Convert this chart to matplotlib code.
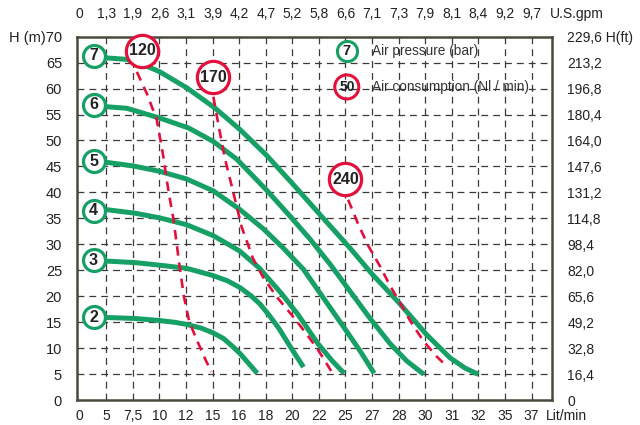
import matplotlib
matplotlib.use('Agg')
import matplotlib.pyplot as plt

plt.rcParams['font.family'] = ['Liberation Sans', 'DejaVu Sans']

# ---------------- data ----------------
x_positions = list(range(18))
lpm_labels = ['0', '5', '7,5', '10', '12', '15', '16', '18', '20', '22', '25',
              '27', '28', '30', '31', '32', '35', '37']
gpm_labels = ['0', '1,3', '1,9', '2,6', '3,1', '3,9', '4,2', '4,7', '5,2', '5,8',
              '6,6', '7,1', '7,3', '7,9', '8,1', '8,4', '9,2', '9,7']
head_m = [0, 5, 10, 15, 20, 25, 30, 35, 40, 45, 50, 55, 60, 65, 70]
head_m_labels = ['0', '5', '10', '15', '20', '25', '30', '35', '40', '45', '50',
                 '55', '60', '65', 'H (m)70']
head_ft_labels = ['0', '16,4', '32,8', '49,2', '65,6', '82,0', '98,4', '114,8',
                  '131,2', '147,6', '164,0', '180,4', '196,8', '213,2', '229,6 H(ft)']

# performance curves (x in flow-grid units, head in m), per air pressure (bar)
pressures = ['2', '3', '4', '5', '6', '7']
curve2_x = [0.97, 2.09, 3.02, 3.6, 4.03, 4.57, 5.01, 5.41, 5.77, 6.05, 6.29, 6.68]
curve2_h = [15.95, 15.75, 15.35, 15.0, 14.6, 13.9, 13.0, 11.9, 10.3, 8.9, 7.5, 5.2]
curve3_x = [1.0, 2.09, 3.02, 4.03, 5.02, 5.56, 6.03, 6.45, 6.79, 7.14, 7.5, 7.95, 8.42]
curve3_h = [26.8, 26.5, 26.0, 25.4, 24.0, 23.0, 21.7, 20.1, 18.5, 16.3, 13.8, 10.1, 6.4]
curve4_x = [1.0, 2.09, 3.02, 4.02, 5.02, 6.0, 6.75, 7.6, 8.2, 8.95, 9.5, 9.95]
curve4_h = [36.7, 36.0, 35.1, 33.8, 31.7, 28.8, 25.5, 20.5, 16.6, 11.0, 7.6, 5.2]
curve5_x = [1.0, 2.02, 3.02, 4.02, 5.03, 6.03, 6.91, 7.66, 8.42, 9.17, 9.92, 10.55, 11.08]
curve5_h = [45.8, 45.1, 44.05, 42.6, 40.3, 36.7, 33.0, 29.3, 25.2, 19.7, 14.2, 9.5, 5.2]
curve6_x = [1.0, 1.77, 3.02, 4.1, 5.03, 5.91, 7.04, 7.92, 8.67, 9.42, 10.17, 10.92,
            11.68, 12.3, 12.95]
curve6_h = [56.5, 56.2, 54.3, 52.4, 49.8, 46.4, 40.4, 35.4, 31.0, 26.2, 21.0, 15.8,
            10.9, 7.6, 5.0]
curve7_x = [1.0, 1.78, 2.39, 3.02, 4.04, 5.1, 6.03, 7.04, 8.04, 9.17, 10.17, 11.0,
            11.99, 13.06, 13.93, 14.5, 15.0]
curve7_h = [65.9, 65.6, 64.6, 63.2, 60.1, 56.2, 52.1, 47.1, 41.5, 35.0, 29.3, 24.3,
            18.9, 12.6, 8.2, 6.2, 5.0]
pressure_label_x = [0.52, 0.52, 0.52, 0.52, 0.52, 0.52]
pressure_label_h = [16.0, 27.0, 36.5, 46.0, 56.85, 66.3]

# air consumption lines (Nl/min)
consumptions = ['120', '170', '240']
air120_x = [2.15, 2.52, 2.9, 3.15, 3.28, 3.40, 3.53, 3.74, 3.92, 4.12, 4.39, 4.77, 4.96]
air120_h = [63.2, 59.1, 54.0, 46.8, 42.2, 38.5, 34.8, 26.5, 20.0, 15.2, 11.8, 7.4, 5.5]
air170_x = [5.03, 5.22, 5.46, 5.77, 6.09, 6.52, 6.9, 7.4, 8.03, 8.53, 8.97, 9.48]
air170_h = [58.4, 53.0, 46.6, 40.2, 33.4, 27.3, 23.7, 20.0, 16.1, 12.8, 9.7, 5.5]
air240_x = [10.10, 10.47, 10.85, 11.30, 11.67, 12.04, 12.41, 12.92, 13.42, 13.66]
air240_h = [38.6, 34.0, 29.8, 25.8, 22.1, 18.9, 15.5, 11.5, 8.5, 7.3]
consumption_label_x = [2.34, 5.03, 10.0]
consumption_label_h = [67.3, 62.2, 42.5]

# legend
legend_x = 10.05
legend_pressure_h = 67.3
legend_consumption_h = 60.3
legend_texts = ['Air pressure (bar)', 'Air consumption (Nl / min)']

GREEN = '#17a066'
RED = '#e2103b'
FRAME = '#4a4a3c'
TXT = '#222222'

# ---------------- figure ----------------
fig = plt.figure(figsize=(6.4, 4.25), dpi=100)
ax = fig.add_axes([0.1208, 0.058, 0.7417, 0.856])
XL = (-0.09, 17.77)
ax.set_xlim(*XL)
ax.set_ylim(0, 70)

for s in ax.spines.values():
    s.set_color(FRAME)
    s.set_linewidth(1.8)
    s.set_zorder(6)

ax.set_xticks(x_positions)
ax.set_xticklabels(lpm_labels)
ax.set_yticks(head_m)
ax.set_yticklabels(head_m_labels)
ax.tick_params(axis='x', length=0, pad=6, labelsize=10, labelcolor=TXT)
ax.tick_params(axis='y', length=0, pad=11, labelsize=10.5, labelcolor=TXT)

# grid
grid_style = dict(color='#3a3a3a', linewidth=0.9, linestyle=(0, (5.5, 4.0)), zorder=1)
ax.vlines(x_positions[1:], 0, 70, **grid_style)
ax.hlines(head_m[1:-1], XL[0], XL[1], **grid_style)

# twin axes for top / right labels
axt = ax.twiny()
axt.set_xlim(*XL)
axt.set_xticks(x_positions)
axt.set_xticklabels(gpm_labels)
axt.tick_params(axis='x', length=0, pad=11, labelsize=10, labelcolor=TXT)
axr = ax.twinx()
axr.set_ylim(0, 70)
axr.set_yticks(head_m)
axr.set_yticklabels(head_ft_labels)
axr.tick_params(axis='y', length=0, pad=11, labelsize=10, labelcolor=TXT)
for a in (axt, axr):
    for s in a.spines.values():
        s.set_visible(False)

ax.annotate('U.S.gpm', xy=(17.68, 1.0), xycoords=('data', 'axes fraction'),
            xytext=(0, 11), textcoords='offset points', ha='left', va='bottom',
            fontsize=10, color=TXT, annotation_clip=False)
ax.annotate('Lit/min', xy=(17.55, 0.0), xycoords=('data', 'axes fraction'),
            xytext=(0, -6), textcoords='offset points', ha='left', va='top',
            fontsize=10, color=TXT, annotation_clip=False)

# green curves
curves_x = [curve2_x, curve3_x, curve4_x, curve5_x, curve6_x, curve7_x]
curves_h = [curve2_h, curve3_h, curve4_h, curve5_h, curve6_h, curve7_h]
for cx, ch in zip(curves_x, curves_h):
    ax.plot(cx, ch, color=GREEN, lw=3.6, solid_capstyle='butt',
            solid_joinstyle='round', zorder=3)

# red dashed lines
airs_x = [air120_x, air170_x, air240_x]
airs_h = [air120_h, air170_h, air240_h]
for axx, ahh in zip(airs_x, airs_h):
    ln, = ax.plot(axx, ahh, color=RED, lw=1.9, zorder=4)
    ln.set_dashes((3.6, 2.6))

# pressure labels
ax.scatter(pressure_label_x, pressure_label_h, s=250, facecolor='white',
           edgecolor=GREEN, linewidth=2.3, zorder=7, clip_on=False)
for px, ph, t in zip(pressure_label_x, pressure_label_h, pressures):
    ax.text(px, ph, t, ha='center', va='center', fontsize=11.5,
            fontweight='bold', color=TXT, zorder=8)

# consumption labels
ax.scatter(consumption_label_x, consumption_label_h, s=540, facecolor='white',
           edgecolor=RED, linewidth=2.3, zorder=7, clip_on=False)
for px, ph, t in zip(consumption_label_x, consumption_label_h, consumptions):
    ax.text(px, ph, t, ha='center', va='center', fontsize=11.5,
            fontweight='bold', color=TXT, zorder=8)

# legend
ax.scatter([legend_x], [legend_pressure_h], s=210, facecolor='white',
           edgecolor=GREEN, linewidth=2.2, zorder=7)
ax.text(legend_x, legend_pressure_h, '7', ha='center', va='center', fontsize=10.5,
        fontweight='bold', color=TXT, zorder=8)
ax.scatter([legend_x], [legend_consumption_h], s=300, facecolor='none',
           edgecolor=RED, linewidth=2.2, zorder=7)
ax.text(legend_x, legend_consumption_h, '50', ha='center', va='center', fontsize=10,
        fontweight='bold', color=TXT, zorder=8)
ax.text(10.99, legend_pressure_h, legend_texts[0], ha='left', va='center',
        fontsize=9.8, color='#333333', zorder=8)
ax.text(10.99, legend_consumption_h, legend_texts[1], ha='left', va='center',
        fontsize=9.8, color='#333333', zorder=8)

fig.savefig('out.png', dpi=100)
